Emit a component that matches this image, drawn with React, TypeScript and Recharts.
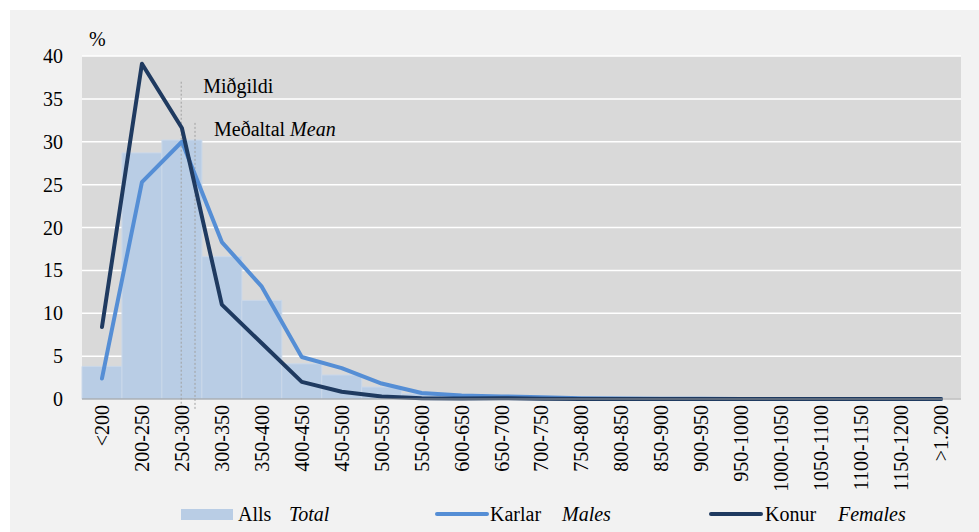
import {
  Bar,
  CartesianGrid,
  ComposedChart,
  Line,
  ReferenceLine,
  XAxis,
  YAxis,
} from "recharts"

const categories = [
  "<200", "200-250", "250-300", "300-350", "350-400", "400-450", "450-500",
  "500-550", "550-600", "600-650", "650-700", "700-750", "750-800", "800-850",
  "850-900", "900-950", "950-1000", "1000-1050", "1050-1100", "1100-1150",
  "1150-1200", ">1.200",
]
const alls = [3.8, 28.7, 30.2, 16.6, 11.5, 4.1, 2.8, 1.4, 0.6, 0.3, 0.2, 0.1, 0.1, 0, 0, 0, 0, 0, 0, 0, 0, 0]
const karlar = [2.4, 25.3, 30.0, 18.3, 13.1, 4.9, 3.6, 1.8, 0.7, 0.4, 0.3, 0.2, 0.1, 0.05, 0.03, 0.02, 0, 0, 0, 0, 0, 0]
const konur = [8.4, 39.1, 31.6, 11.0, 6.5, 2.0, 0.85, 0.3, 0.1, 0.05, 0.1, 0.02, 0, 0, 0, 0, 0, 0, 0, 0, 0, 0]
const yTicks = [0, 5, 10, 15, 20, 25, 30, 35, 40]

// median / mean on the hidden 0..21 positioning axis (spans the plot width)
const median = 2.37
const mean = 2.7

const FONT = "Liberation Serif, Tinos, Times New Roman, DejaVu Serif, serif"
const C_ALLS = "#b9cde5"
const C_KARLAR = "#558ed5"
const C_KONUR = "#1f3a60"

const data = categories.map((cat, i) => ({
  cat,
  alls: alls[i],
  karlar: karlar[i],
  konur: konur[i],
}))

const CatTick = ({ x, y, payload }: { x?: number; y?: number; payload?: { value: string } }) => (
  <text
    x={x}
    y={y}
    transform={`rotate(-90 ${x} ${y})`}
    textAnchor="end"
    dy="0.35em"
    fontSize={20}
    style={{ fontFamily: FONT }}
    fill="#000"
  >
    {payload?.value}
  </text>
)

const MedianLabel = (props: any) => {
  const vb = props.viewBox
  return (
    <text x={vb.x + 22} y={vb.y + 11} fontSize={20} style={{ fontFamily: FONT }} fill="#000">
      Miðgildi
    </text>
  )
}

const MeanLabel = (props: any) => {
  const vb = props.viewBox
  return (
    <text x={vb.x + 19} y={vb.y + 13} fontSize={20} style={{ fontFamily: FONT }} fill="#000">
      Meðaltal <tspan fontStyle="italic">Mean</tspan>
    </text>
  )
}

export default function App() {
  return (
    <div
      style={{
        position: "absolute",
        top: 0,
        left: 0,
        width: 979,
        height: 532,
        background: "#fff",
        fontFamily: FONT,
      }}
    >
      <div style={{ position: "absolute", top: 10, left: 10, width: 969, height: 522, background: "#f2f2f2" }} />
      <div style={{ position: "absolute", top: 0, left: 0 }}>
        <ComposedChart
          width={979}
          height={532}
          data={data}
          margin={{ top: 56, right: 18, bottom: 33, left: 10 }}
          barCategoryGap={0}
          barGap={0}
          style={{ fontFamily: FONT }}
        >
          <CartesianGrid
            vertical={false}
            fill="#d9d9d9"
            stroke="#ffffff"
            strokeWidth={1.5}
          />
          <XAxis
            dataKey="cat"
            interval={0}
            height={100}
            tickLine={false}
            tickSize={0}
            tickMargin={6}
            axisLine={{ stroke: "#999", strokeWidth: 1 }}
            tick={<CatTick />}
          />
          <XAxis
            xAxisId="num"
            type="number"
            scale="linear"
            domain={[0, 21]}
            allowDataOverflow
            padding={{ left: 0, right: 0 }}
            hide
          />
          <YAxis
            domain={[0, 40]}
            ticks={yTicks}
            width={72}
            axisLine={false}
            tickLine={false}
            tickSize={0}
            tickMargin={19}
            tick={{ fontSize: 20, fill: "#000", fontFamily: FONT }}
          />
          <Bar dataKey="alls" fill={C_ALLS} stroke="#cad8ea" strokeWidth={1} isAnimationActive={false} />
          <ReferenceLine
            xAxisId="num"
            segment={[{ x: median, y: 37.0 }, { x: median, y: -1.3 }]}
            ifOverflow="visible"
            stroke="#a0a0a0"
            strokeDasharray="2 2"
            label={MedianLabel}
          />
          <ReferenceLine
            xAxisId="num"
            segment={[{ x: mean, y: 32.2 }, { x: mean, y: -1.3 }]}
            ifOverflow="visible"
            stroke="#a0a0a0"
            strokeDasharray="2 2"
            label={MeanLabel}
          />
          <Line
            type="linear"
            dataKey="karlar"
            stroke={C_KARLAR}
            strokeWidth={4}
            strokeLinecap="round"
            strokeLinejoin="round"
            dot={false}
            isAnimationActive={false}
          />
          <Line
            type="linear"
            dataKey="konur"
            stroke={C_KONUR}
            strokeWidth={4}
            strokeLinecap="round"
            strokeLinejoin="round"
            dot={false}
            isAnimationActive={false}
          />
        </ComposedChart>
      </div>
      <svg
        width={979}
        height={532}
        style={{ position: "absolute", top: 0, left: 0, pointerEvents: "none", fontFamily: FONT }}
        fontSize={20}
      >
        <text x={89} y={46} fill="#000">%</text>
        <rect x={181} y={509} width={52} height={11} fill={C_ALLS} />
        <text x={238} y={521} fill="#000">Alls</text>
        <text x={289} y={521} fill="#000" fontStyle="italic">Total</text>
        <line x1={437} x2={487} y1={514} y2={514} stroke={C_KARLAR} strokeWidth={4} strokeLinecap="round" />
        <text x={490} y={521} fill="#000">Karlar</text>
        <text x={562} y={521} fill="#000" fontStyle="italic">Males</text>
        <line x1={711} x2={761} y1={514} y2={514} stroke={C_KONUR} strokeWidth={4} strokeLinecap="round" />
        <text x={765} y={521} fill="#000">Konur</text>
        <text x={838} y={521} fill="#000" fontStyle="italic">Females</text>
      </svg>
    </div>
  )
}
